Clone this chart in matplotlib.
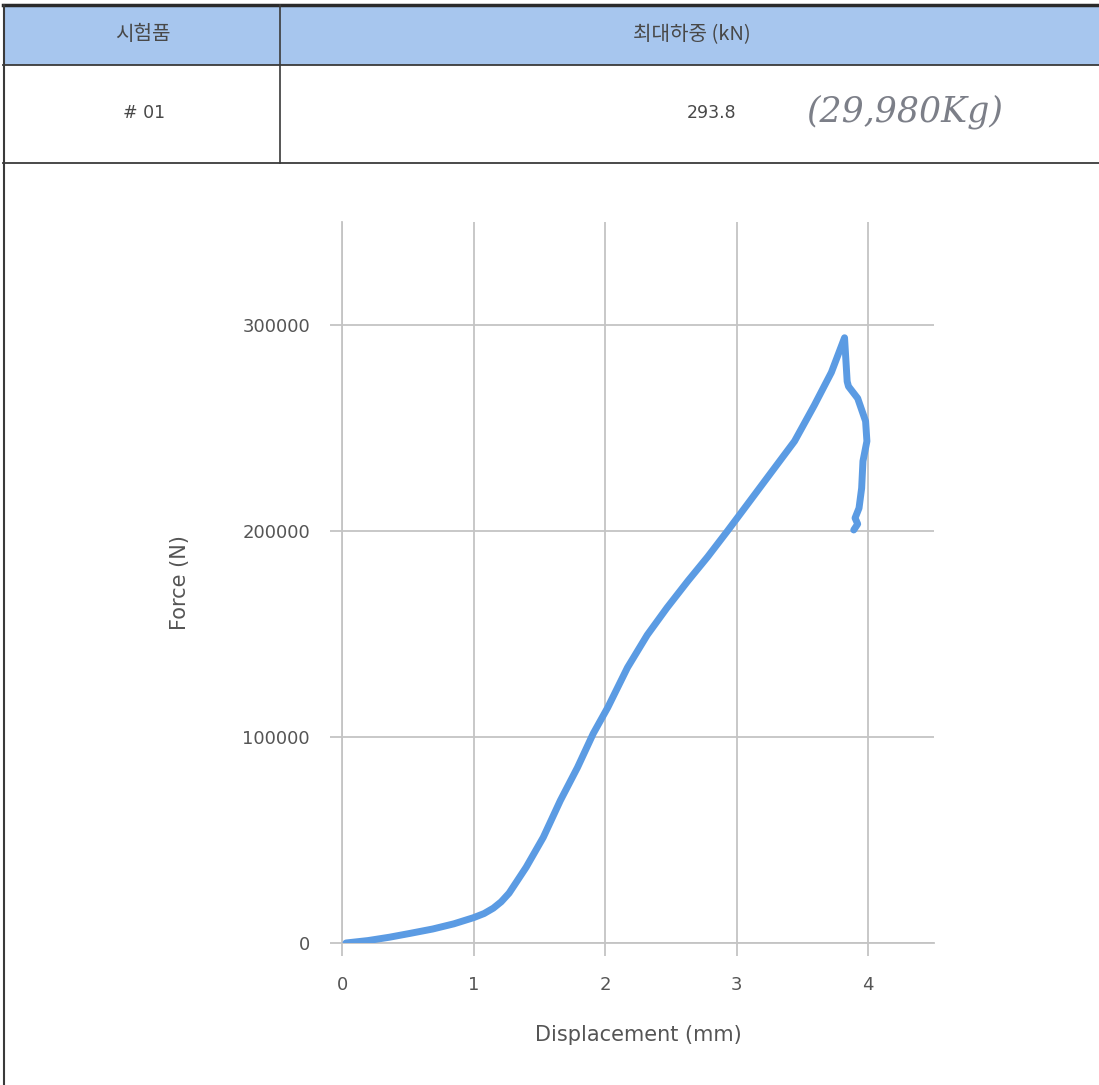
import matplotlib
matplotlib.use("Agg")
import matplotlib.pyplot as plt
from matplotlib.patches import Rectangle
from matplotlib.lines import Line2D

# ---- data ----
displacement_mm = [0.03, 0.20, 0.36, 0.52, 0.69, 0.85, 1.00, 1.08, 1.15, 1.21, 1.27,
                   1.33, 1.40, 1.53, 1.66, 1.79, 1.91, 2.02, 2.17, 2.32, 2.47, 2.63,
                   2.78, 2.93, 3.08, 3.24, 3.44, 3.59, 3.72, 3.82,
                   3.84, 3.85, 3.92, 3.98, 3.99, 3.96, 3.95, 3.93, 3.90, 3.92, 3.89]
force_N = [0, 1200, 2800, 4700, 6800, 9300, 12300, 14300, 16900, 20000, 24200,
           30000, 36800, 51300, 69200, 85200, 101700, 114300, 133700, 149500, 162700, 175800,
           187500, 200000, 212800, 226500, 243600, 261000, 277000, 293800,
           272600, 270200, 264400, 253300, 243600, 233900, 220800, 211100, 206300, 203400, 200500]

x_ticks = [0, 1, 2, 3, 4]
y_ticks = [0, 100000, 200000, 300000]
x_label = "Displacement (mm)"
y_label = "Force (N)"

table_headers = ["시험품", "최대하중 (kN)"]
table_row = ["# 01", "293.8"]
handwritten_note = "(29,980Kg)"

W, H = 1099, 1085
fig = plt.figure(figsize=(W / 100, H / 100), dpi=100)
fig.patch.set_facecolor("white")

def fx(px):
    return px / W

def fy(py):
    return 1 - py / H

kr = ["Noto Sans CJK KR", "DejaVu Sans"]
lat = ["DejaVu Sans", "Noto Sans CJK KR"]

# ---- table ----
fig.add_artist(Rectangle((fx(5), fy(65)), fx(W) - fx(5), fy(5) - fy(65),
                         transform=fig.transFigure, facecolor="#a7c6ee",
                         edgecolor="none", zorder=0))
line_col = "#3a3a3a"
fig.add_artist(Line2D([fx(3), fx(W)], [fy(5), fy(5)], transform=fig.transFigure,
                      color="#2a2a2a", lw=2.5))
fig.add_artist(Line2D([fx(3), fx(W)], [fy(65), fy(65)], transform=fig.transFigure,
                      color=line_col, lw=1.3))
fig.add_artist(Line2D([fx(3), fx(W)], [fy(163), fy(163)], transform=fig.transFigure,
                      color=line_col, lw=1.3))
fig.add_artist(Line2D([fx(280), fx(280)], [fy(5), fy(163)], transform=fig.transFigure,
                      color=line_col, lw=1.2))
fig.add_artist(Line2D([fx(4), fx(4)], [fy(5), fy(H)], transform=fig.transFigure,
                      color=line_col, lw=1.5))

hdr_col = "#484848"
fig.text(fx(143), fy(35), table_headers[0], ha="center", va="center",
         fontsize=14.5, family=kr, color=hdr_col)
fig.text(fx(692), fy(35), table_headers[1], ha="center", va="center",
         fontsize=14.5, family=kr, color=hdr_col)
fig.text(fx(144), fy(113), table_row[0], ha="center", va="center",
         fontsize=12.5, family=lat, color=hdr_col)
fig.text(fx(712), fy(113), table_row[1], ha="center", va="center",
         fontsize=12.5, family=lat, color=hdr_col)
fig.text(fx(905), fy(112), handwritten_note, ha="center", va="center",
         fontsize=25, family="DejaVu Serif", style="italic", color="#7c7f88")

# ---- chart ----
ax = fig.add_axes([fx(342), fy(943), fx(934) - fx(342), fy(222) - fy(943)])
ax.set_facecolor("none")
ax.plot(displacement_mm, force_N, color="#5b9be3", lw=5, solid_capstyle="round",
        solid_joinstyle="round", zorder=3)
ax.set_xlim(0, 4.5)
ax.set_ylim(0, 350000)
ax.set_xticks(x_ticks)
ax.set_yticks(y_ticks)
ax.set_xticklabels([str(v) for v in x_ticks])
ax.set_yticklabels([str(v) for v in y_ticks])
grid_col = "#c4c4c4"
ax.grid(True, color=grid_col, lw=1.3, zorder=0)
for s in ["top", "right"]:
    ax.spines[s].set_visible(False)
for s in ["left", "bottom"]:
    ax.spines[s].set_color(grid_col)
    ax.spines[s].set_linewidth(1.3)
ax.tick_params(axis="both", length=9, width=1.3, color=grid_col, direction="out",
               labelcolor="#555555", labelsize=13)
ax.tick_params(axis="x", pad=15)
ax.tick_params(axis="y", pad=14)
for lab in ax.get_xticklabels() + ax.get_yticklabels():
    lab.set_family("DejaVu Sans")
ax.set_xlabel(x_label, fontsize=15, color="#555555", family="DejaVu Sans", labelpad=22)
ax.set_ylabel(y_label, fontsize=15, color="#555555", family="DejaVu Sans", labelpad=38)

fig.savefig("out.png", dpi=100, facecolor="white")
